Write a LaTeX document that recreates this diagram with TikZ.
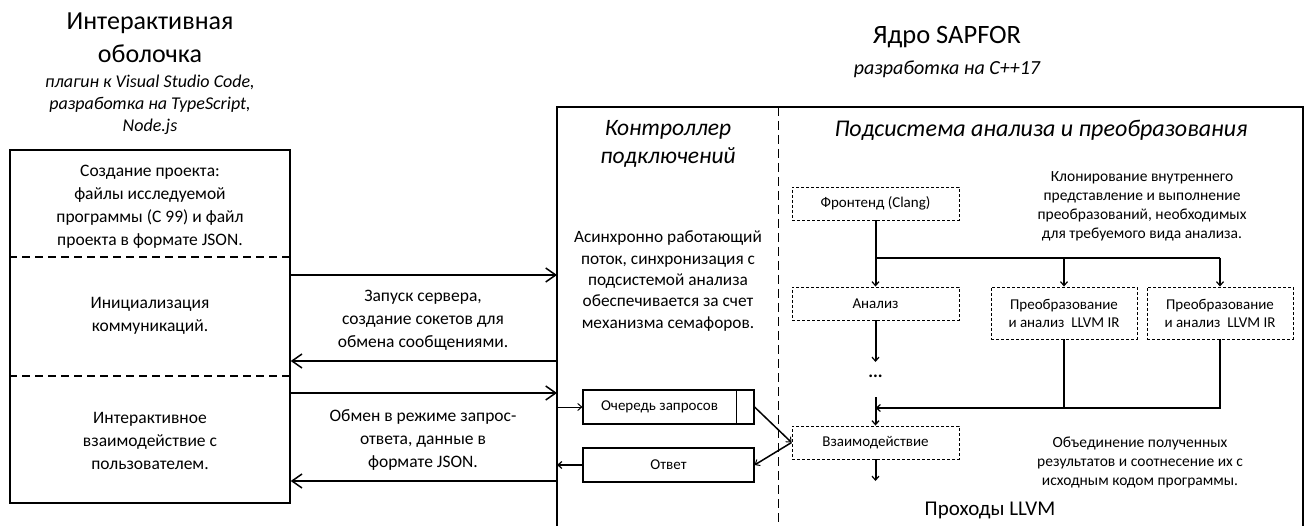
\documentclass[tikz,border=0pt]{standalone}
\usepackage{fontspec}
\setmainfont{Carlito}
\usetikzlibrary{arrows.meta}
\begin{document}
\begin{tikzpicture}[x=1pt,y=-1pt,
  frame/.style={line width=1.4pt},
  divider/.style={dashed, dash pattern=on 8pt off 5pt, line width=1.2pt},
  vdivider/.style={dashed, dash pattern=on 9pt off 5pt, line width=1pt},
  dbox/.style={draw, dash pattern=on 3pt off 2pt, line width=0.9pt, minimum width=167pt, minimum height=33pt, inner sep=0pt, align=center, font=\fontsize{15}{18}\selectfont},
  pbox/.style={dbox, minimum width=146pt, minimum height=52pt},
  qbox/.style={draw, line width=1.1pt, minimum width=171pt, minimum height=34pt, inner sep=0pt, font=\fontsize{15}{18}\selectfont},
  big/.style={-{Straight Barb[length=10pt,width=14pt,line width=1.5pt]}, line width=2pt},
  small/.style={-{Straight Barb[length=4pt,width=7pt,line width=1.2pt]}, line width=2pt},
  thinar/.style={-{Straight Barb[length=4pt,width=7pt,line width=1pt]}, line width=1pt},
  body/.style={align=center, inner sep=0pt, font=\fontsize{17.5}{23}\selectfont},
  note/.style={align=center, inner sep=0pt, font=\fontsize{15.5}{19}\selectfont},
  head/.style={align=center, inner sep=0pt, font=\fontsize{26}{33}\selectfont},
  ihead/.style={align=center, inner sep=0pt, font=\itshape\fontsize{24}{28}\selectfont},
  sub/.style={align=center, inner sep=0pt, font=\itshape\fontsize{18}{22}\selectfont}
]
\useasboundingbox (0,0) rectangle (1308,526);

% ---------- titles
\node[head] (t1) at (150,38) {Интерактивная\\оболочка};
\node[sub] (t1s) at (150,105) {плагин к Visual Studio Code,\\разработка на TypeScript,\\Node.js};
\node[head, font=\fontsize{26.5}{30}\selectfont] (t2) at (947,37) {Ядро SAPFOR};
\node[sub, font=\itshape\fontsize{20}{24}\selectfont] (t2s) at (947,69) {разработка на C++17};

% ---------- left box
\node[draw, frame, minimum width=280pt, minimum height=353pt, inner sep=0pt] (lbox) at (150,326.5) {};
\coordinate (d1) at (0,257);
\coordinate (d2) at (0,376);
\draw[divider] (lbox.west |- d1) -- (lbox.east |- d1);
\draw[divider] (lbox.west |- d2) -- (lbox.east |- d2);
\node[body] (s1) at (150,207) {Создание проекта:\\файлы исследуемой\\программы (С 99) и файл\\проекта в формате JSON.};
\node[body] (s2) at (150,316) {Инициализация\\коммуникаций.};
\node[body] (s3) at (150,441) {Интерактивное\\взаимодействие с\\пользователем.};

% ---------- big right frame
\coordinate (bl) at (557,526);
\coordinate (tl) at (557,107);
\coordinate (tr) at (1303,107);
\coordinate (br) at (1303,526);
\draw[frame] (bl) -- (tl) -- (tr) -- (br);
\coordinate (vt) at (778,107);
\coordinate (vb) at (778,526);
\draw[vdivider] (vt) -- (vb);

% ---------- controller
\node[ihead, font=\itshape\fontsize{23.5}{28}\selectfont] (ch) at (668,144) {Контроллер\\подключений};
\node[body, font=\fontsize{17.3}{21.3}\selectfont] (ct) at (668,281) {Асинхронно работающий\\поток, синхронизация с\\подсистемой анализа\\обеспечивается за счет\\механизма семафоров.};

\node[qbox] (queue) at (668.5,407) {\hspace*{-18pt}Очередь запросов};
\draw[line width=1.1pt] ([xshift=-18pt]queue.north east) -- ([xshift=-18pt]queue.south east);
\node[qbox] (resp) at (668.5,465) {Ответ};

% ---------- arrows between shell and controller
\coordinate (y1) at (0,275);
\coordinate (y2) at (0,361);
\coordinate (y3) at (0,393);
\coordinate (y4) at (0,481);
\draw[big] (lbox.east |- y1) -- (tl |- y1);
\draw[big] (tl |- y2) -- (lbox.east |- y2);
\draw[big] (lbox.east |- y3) -- (tl |- y3);
\draw[big] (tl |- y4) -- (lbox.east |- y4);
\node[body] (m1) at (423,320) {Запуск сервера,\\создание сокетов для\\обмена сообщениями.};
\node[body] (m2) at (423,440) {Обмен в режиме запрос-\\ответа, данные в\\формате JSON.};

\draw[thinar] (tl |- queue.west) -- (queue.west);
\draw[small] (resp.west) -- (tl |- resp.west);

% ---------- subsystem
\node[ihead] (sh) at (1041,130) {Подсистема анализа и преобразования};
\node[dbox] (fe) at (875.5,203.5) {Фронтенд (Clang)};
\node[dbox] (an) at (875.5,303.5) {Анализ};
\node[dbox] (vz) at (875.5,442.5) {Взаимодействие};
\node[pbox] (p1) at (1064,313) {Преобразование\\и анализ~ LLVM IR};
\node[pbox] (p2) at (1220,313) {Преобразование\\и анализ~ LLVM IR};
\node[inner sep=0pt, font=\bfseries\fontsize{18}{20}\selectfont] (dots) at (875.5,376) {...};

\coordinate (br1) at (875.5,258);
\draw[small] (fe.south) -- (an.north);
\draw[line width=2pt] (br1) -- (br1 -| p2.north);
\draw[small] (br1 -| p1.north) -- (p1.north);
\draw[small] (br1 -| p2.north) -- (p2.north);

\coordinate (anEnd) at (875.5,362);
\draw[small] (an.south) -- (anEnd);
\coordinate (vzIn) at (875.5,397);
\draw[small] (vzIn) -- (vz.north);
\coordinate (mg) at (0,408);
\draw[line width=2pt] (p1.south) -- (p1.south |- mg);
\draw[small] (p2.south) -- (p2.south |- mg) -- (vz.north |- mg);
\coordinate (vzEnd) at (875.5,481);
\draw[small] (vz.south) -- (vzEnd);

\draw[thinar, line width=1.5pt] (queue.east) -- (vz.west);
\draw[thinar, line width=1.5pt] (vz.west) -- (resp.east);

\node[note] (n1) at (1142,206) {Клонирование внутреннего\\представление и выполнение\\преобразований, необходимых\\для требуемого вида анализа.};
\node[note] (n2) at (1140,462) {Объединение полученных\\результатов и соотнесение их с\\исходным кодом программы.};
\node[inner sep=0pt, font=\fontsize{21}{24}\selectfont] (llvm) at (990,510) {Проходы LLVM};
\end{tikzpicture}
\end{document}
